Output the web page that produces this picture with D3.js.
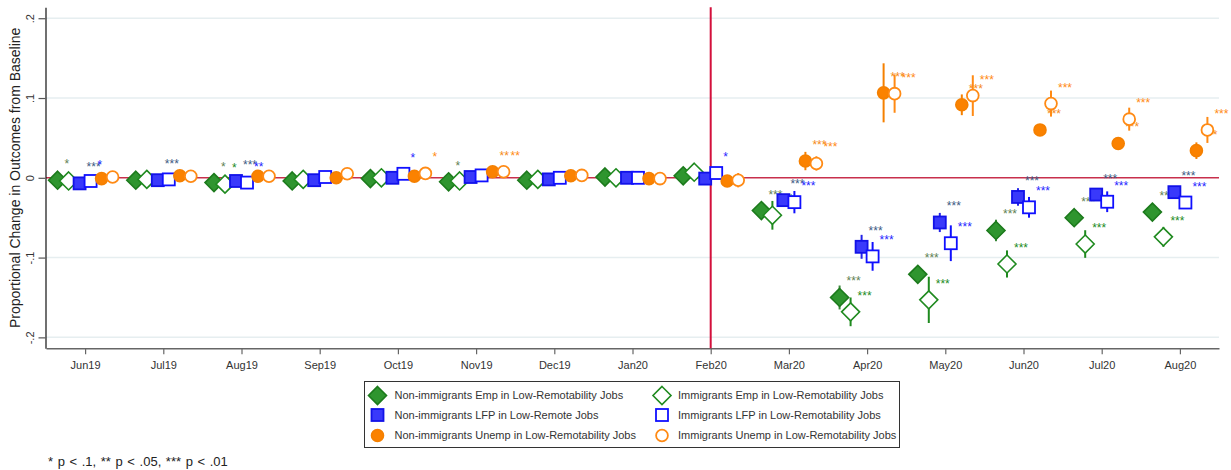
<!DOCTYPE html>
<html>
<head>
<meta charset="utf-8">
<script src="https://cdn.jsdelivr.net/npm/d3@7"></script>
<style>
  body { margin: 0; background: #fff; }
  svg { display: block; font-family: "Liberation Sans", Arial, sans-serif; }
</style>
</head>
<body>
<svg id="chart" width="1231" height="470"></svg>
<script>
// Months shown on the x axis (event-study periods)
const months = ["Jun19", "Jul19", "Aug19", "Sep19", "Oct19", "Nov19", "Dec19", "Jan20",
                "Feb20", "Mar20", "Apr20", "May20", "Jun20", "Jul20", "Aug20"];
const yTicks = [-0.2, -0.1, 0, 0.1, 0.2];
const yTickLabels = ["-.2", "-.1", "0", ".1", ".2"];

// Point estimates (proportional change vs. baseline)
const nativeEmp   = [-0.003, -0.003, -0.006, -0.004, -0.001, -0.005, -0.003, 0.001, 0.0025,
                     -0.041, -0.150, -0.121, -0.066, -0.050, -0.043];
const immigEmp    = [-0.004, -0.002, -0.008, -0.002, 0.000, -0.004, -0.002, 0.000, 0.007,
                     -0.047, -0.168, -0.153, -0.108, -0.083, -0.074];
const nativeLfp   = [-0.007, -0.003, -0.004, -0.003, 0.000, 0.001, -0.002, 0.000, -0.001,
                     -0.028, -0.0865, -0.056, -0.024, -0.021, -0.018];
const immigLfp    = [-0.004, -0.002, -0.006, 0.001, 0.005, 0.003, 0.000, 0.000, 0.006,
                     -0.0305, -0.0985, -0.082, -0.037, -0.030, -0.031];
const nativeUnemp = [-0.001, 0.0025, 0.002, 0.000, 0.002, 0.0075, 0.0025, -0.001, -0.004,
                     0.021, 0.1065, 0.0915, 0.060, 0.043, 0.034];
const immigUnemp  = [0.001, 0.002, 0.002, 0.005, 0.0055, 0.0075, 0.003, -0.001, -0.003,
                     0.018, 0.1055, 0.103, 0.093, 0.0735, 0.060];

// Half-widths of the confidence intervals
const nativeEmpCI   = [0.004, 0.004, 0.004, 0.004, 0.004, 0.004, 0.004, 0.004, 0.004,
                       0.006, 0.015, 0.008, 0.0135, 0.008, 0.008];
const immigEmpCI    = [0.005, 0.005, 0.005, 0.005, 0.005, 0.005, 0.005, 0.005, 0.005,
                       0.018, 0.018, 0.029, 0.017, 0.0173, 0.0125];
const nativeLfpCI   = [0.004, 0.004, 0.004, 0.004, 0.004, 0.004, 0.004, 0.004, 0.004,
                       0.005, 0.015, 0.012, 0.011, 0.006, 0.006];
const immigLfpCI    = [0.005, 0.005, 0.005, 0.005, 0.005, 0.006, 0.005, 0.005, 0.005,
                       0.014, 0.018, 0.0224, 0.013, 0.013, 0.008];
const nativeUnempCI = [0.004, 0.004, 0.004, 0.004, 0.004, 0.004, 0.004, 0.004, 0.004,
                       0.0115, 0.037, 0.013, 0.006, 0.006, 0.0104];
const immigUnempCI  = [0.005, 0.005, 0.005, 0.005, 0.005, 0.005, 0.005, 0.005, 0.009,
                       0.009, 0.024, 0.0255, 0.0163, 0.0144, 0.0163];

// Significance stars
const nativeEmpStars   = ["*", "", "*", "", "", "*", "", "", "", "***", "***", "***", "***", "***", "***"];
const immigEmpStars    = ["", "", "*", "", "", "", "", "", "", "***", "***", "***", "***", "***", "***"];
const nativeLfpStars   = ["***", "***", "***", "", "", "", "", "", "", "***", "***", "***", "***", "***", "***"];
const immigLfpStars    = ["*", "", "**", "", "*", "", "", "", "*", "***", "***", "***", "***", "***", "***"];
const nativeUnempStars = ["", "", "", "", "", "**", "", "", "", "***", "***", "***", "***", "***", "***"];
const immigUnempStars  = ["", "", "", "", "*", "**", "", "", "", "***", "***", "***", "***", "***", "***"];

const seriesLabels = [
  "Non-immigrants Emp in Low-Remotability Jobs",
  "Immigrants Emp in Low-Remotability Jobs",
  "Non-immigrants LFP in Low-Remote Jobs",
  "Immigrants LFP in Low-Remotability Jobs",
  "Non-immigrants Unemp in Low-Remotability Jobs",
  "Immigrants Unemp in Low-Remotability Jobs"
];
const footnote = "* p < .1, ** p < .05, *** p < .01";
const yTitle = "Proportional Change in Outcomes from Baseline";

const series = [
  { name: seriesLabels[0], values: nativeEmp,   ci: nativeEmpCI,   stars: nativeEmpStars,
    shape: "diamond", fill: "#2f952f", stroke: "#1c7a1c", ciColor: "#3d8a3d", starColor: "#617f52" },
  { name: seriesLabels[1], values: immigEmp,    ci: immigEmpCI,    stars: immigEmpStars,
    shape: "diamond", fill: "#ffffff", stroke: "#1f8a1f", ciColor: "#1f8a1f", starColor: "#228b22" },
  { name: seriesLabels[2], values: nativeLfp,   ci: nativeLfpCI,   stars: nativeLfpStars,
    shape: "square", fill: "#3939fb", stroke: "#1212e8", ciColor: "#2323e8", starColor: "#3d5a82" },
  { name: seriesLabels[3], values: immigLfp,    ci: immigLfpCI,    stars: immigLfpStars,
    shape: "square", fill: "#ffffff", stroke: "#1010ff", ciColor: "#1010ff", starColor: "#1f1fff" },
  { name: seriesLabels[4], values: nativeUnemp, ci: nativeUnempCI, stars: nativeUnempStars,
    shape: "circle", fill: "#fb8200", stroke: "#f58000", ciColor: "#f58000", starColor: "#f58a1a" },
  { name: seriesLabels[5], values: immigUnemp,  ci: immigUnempCI,  stars: immigUnempStars,
    shape: "circle", fill: "#ffffff", stroke: "#ff8a14", ciColor: "#ff8a14", starColor: "#ff8a14" }
];

const svg = d3.select("#chart");

const x = d3.scaleLinear().domain([-0.5, 14.5]).range([46, 1219]);
const y = d3.scaleLinear().domain([-0.2137, 0.2137]).range([348.3, 7.3]);
const slot = 0.1407;           // horizontal spacing between the six series (in months)
const offsetOf = k => (k - 2.5) * slot;

// Horizontal grid lines
svg.append("g").selectAll("line")
  .data(yTicks.filter(t => t !== 0))
  .join("line")
  .attr("x1", x.range()[0]).attr("x2", x.range()[1])
  .attr("y1", d => y(d)).attr("y2", d => y(d))
  .attr("stroke", "#e6eef0").attr("stroke-width", 1.5);

// Baseline at zero
svg.append("line")
  .attr("x1", x.range()[0]).attr("x2", x.range()[1])
  .attr("y1", y(0)).attr("y2", y(0))
  .attr("stroke", "#c8304c").attr("stroke-width", 1.6);

// Y axis
const yAxis = svg.append("g")
  .attr("transform", `translate(${x.range()[0] - 0.5},0)`)
  .call(d3.axisLeft(y).tickValues(yTicks)
    .tickFormat((d, i) => yTickLabels[i]).tickSize(7).tickSizeOuter(0));
yAxis.select(".domain").attr("stroke", "#111").attr("stroke-width", 1.2);
yAxis.selectAll(".tick line").attr("stroke", "#555").attr("stroke-width", 1.2);
yAxis.selectAll(".tick text")
  .attr("x", null).attr("dy", "0.35em")
  .attr("transform", "translate(-15,0) rotate(-90)")
  .attr("text-anchor", "middle")
  .attr("font-size", 11).attr("fill", "#333");

// X axis
const xAxis = svg.append("g")
  .attr("transform", `translate(0,${y.range()[0]})`)
  .call(d3.axisBottom(x).tickValues(d3.range(months.length))
    .tickFormat(i => months[i]).tickSize(6).tickPadding(7).tickSizeOuter(0));
xAxis.select(".domain").attr("stroke", "#666").attr("stroke-width", 1.5);
xAxis.selectAll(".tick line").attr("stroke", "#666").attr("stroke-width", 1.2);
xAxis.selectAll(".tick text").attr("font-size", 11).attr("fill", "#333");

// Event line at Feb20
const eventIdx = months.indexOf("Feb20");
svg.append("line")
  .attr("x1", x(eventIdx)).attr("x2", x(eventIdx))
  .attr("y1", y.range()[1]).attr("y2", y.range()[0])
  .attr("stroke", "#d3103c").attr("stroke-width", 2);

// Y axis title
svg.append("text")
  .attr("transform", `translate(15,${y(0)}) rotate(-90)`)
  .attr("text-anchor", "middle").attr("dy", "0.35em")
  .attr("font-size", 14).attr("fill", "#222")
  .text(yTitle);

function drawSymbol(g, shape, fill, stroke) {
  if (shape === "diamond") {
    g.append("path").attr("d", "M0,-9L9,0L0,9L-9,0Z")
      .attr("fill", fill).attr("stroke", stroke).attr("stroke-width", 1.6);
  } else if (shape === "square") {
    g.append("rect").attr("x", -6).attr("y", -6).attr("width", 12).attr("height", 12)
      .attr("fill", fill).attr("stroke", stroke).attr("stroke-width", 1.8);
  } else {
    g.append("circle").attr("r", 5.9)
      .attr("fill", fill).attr("stroke", stroke).attr("stroke-width", 1.8);
  }
}

// Series: CI bars, markers, significance stars
series.forEach((s, k) => {
  const off = offsetOf(k);
  const g = svg.append("g");
  const pts = s.values.map((v, i) => ({ i, v, hw: s.ci[i], star: s.stars[i] }));
  g.selectAll("line.ci").data(pts).join("line")
    .attr("class", "ci")
    .attr("x1", d => x(d.i + off)).attr("x2", d => x(d.i + off))
    .attr("y1", d => y(d.v - d.hw)).attr("y2", d => y(d.v + d.hw))
    .attr("stroke", s.ciColor).attr("stroke-width", 2);
  g.selectAll("g.mk").data(pts).join("g")
    .attr("class", "mk")
    .attr("transform", d => `translate(${x(d.i + off)},${y(d.v)})`)
    .each(function () { drawSymbol(d3.select(this), s.shape, s.fill, s.stroke); });
  g.selectAll("text.star").data(pts.filter(d => d.star)).join("text")
    .attr("class", "star")
    .attr("x", d => x(d.i + off) + 7).attr("y", d => y(d.v) - 12)
    .attr("font-size", 12).attr("fill", s.starColor)
    .text(d => d.star);
});

// Legend
const legend = svg.append("g");
legend.append("rect")
  .attr("x", 364.5).attr("y", 381.5).attr("width", 535).attr("height", 66)
  .attr("fill", "#fff").attr("stroke", "#333").attr("stroke-width", 1);
const legendOrder = [0, 2, 4, 1, 3, 5];
const rowsY = [395.5, 415, 435.5];
const colSymX = [377.5, 662];
const colTextX = [394.5, 678];
legendOrder.forEach((k, j) => {
  const col = Math.floor(j / 3), row = j % 3;
  const s = series[k];
  const gs = legend.append("g").attr("transform", `translate(${colSymX[col]},${rowsY[row]})`);
  drawSymbol(gs, s.shape, s.fill, s.stroke);
  legend.append("text")
    .attr("x", colTextX[col]).attr("y", rowsY[row]).attr("dy", "0.35em")
    .attr("font-size", 11).attr("fill", "#333")
    .text(s.name);
});

// Footnote
svg.append("text")
  .attr("x", 48).attr("y", 466)
  .attr("font-size", 13).attr("word-spacing", 1).attr("fill", "#222")
  .text(footnote);
</script>
</body>
</html>
